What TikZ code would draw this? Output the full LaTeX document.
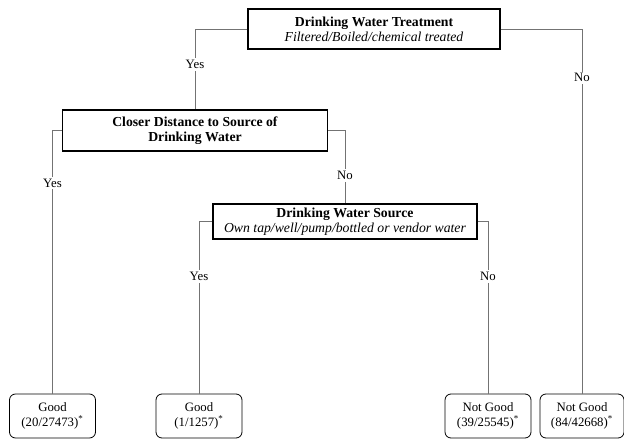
\documentclass[tikz,border=0pt]{standalone}
\usepackage{fontspec}
\setmainfont{Liberation Serif}
\usepackage{tikz}

\tikzset{
  decision/.style={draw, line width=0.9pt, inner sep=0.75pt, align=center,
    font=\fontsize{10.3}{11.5}\selectfont},
  outcome/.style={draw, line width=0.6pt, rounded corners=4.5pt, inner sep=0.75pt,
    align=center, minimum width=64.5pt, minimum height=33pt,
    font=\fontsize{9.6}{11}\selectfont},
  branch/.style={draw=black!55, line width=0.6pt},
  answer/.style={fill=white, inner sep=1.5pt, font=\fontsize{9.6}{11}\selectfont}
}

\begin{document}
\begin{tikzpicture}[x=0.75pt,y=0.75pt,yscale=-1,xscale=1]
\useasboundingbox (0,0) rectangle (624,441);

% decision boxes
\node [decision, minimum width=189pt, minimum height=30pt] (treat) at (374,29)
  {\textbf{Drinking Water Treatment}\\\textit{Filtered/Boiled/chemical treated}};

\node [decision, minimum width=198.75pt, minimum height=30.75pt] (dist) at (195,130.5)
  {\textbf{Closer Distance to Source of}\\\textbf{Drinking Water}};

\node [decision, minimum width=198pt, minimum height=26.25pt] (source) at (345,221.5)
  {\textbf{Drinking Water Source}\\\textit{Own tap/well/pump/bottled or vendor water}};

% outcomes
\node [outcome] (goodA) at (52.5,416) {Good\\(20/27473)\textsuperscript{*}};
\node [outcome] (goodB) at (199,416) {Good\\(1/1257)\textsuperscript{*}};
\node [outcome] (notA) at (488,416) {Not Good\\(39/25545)\textsuperscript{*}};
\node [outcome, minimum width=63pt] (notB) at (582,416) {Not Good\\(84/42668)\textsuperscript{*}};

% branches
\draw [branch] (treat.west) -| node [answer, pos=0.72] {Yes} (dist.north);
\draw [branch] (treat.east) -| node [answer, pos=0.567] {No} (notB.north);

\draw [branch] (dist.west) -| node [answer, pos=0.6] {Yes} (goodA.north);
\draw [branch] (dist.east) -| node [answer, pos=0.81] {No} (source.north);

\draw [branch] (source.west) -| node [answer, pos=0.66] {Yes} (goodB.north);
\draw [branch] (source.east) -| node [answer, pos=0.66] {No} (notA.north);

\end{tikzpicture}
\end{document}
